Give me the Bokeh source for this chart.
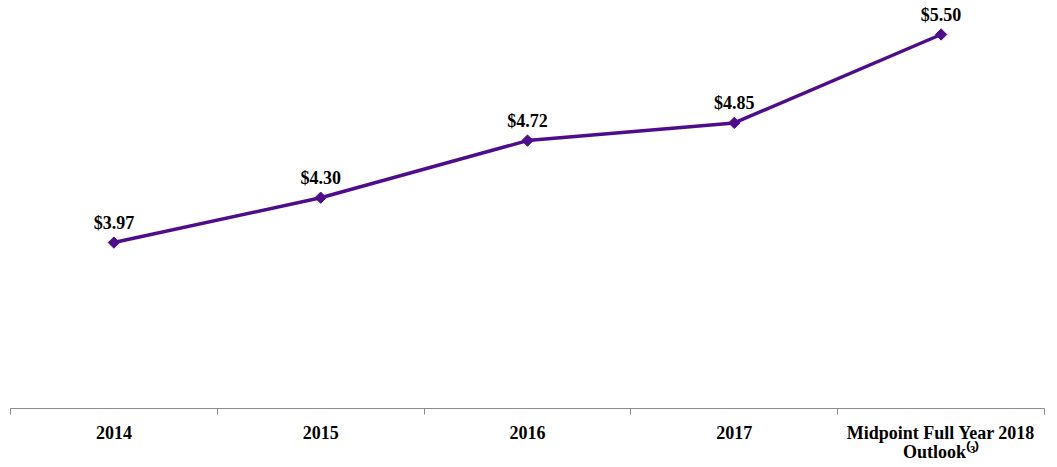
import numpy as np
from bokeh.plotting import figure
from bokeh.models import Range1d, FixedTicker, ColumnDataSource
from bokeh.core.properties import value
from bokeh.embed import file_html
from bokeh.resources import INLINE

categories = ["2014", "2015", "2016", "2017", "Midpoint Full Year 2018\nOutlook\u207d\u00b3\u207e"]
values = [3.97, 4.30, 4.72, 4.85, 5.50]
value_labels = ["$3.97", "$4.30", "$4.72", "$4.85", "$5.50"]

PURPLE = "#4E0D8C"
FONT = "Liberation Serif"

xs = np.arange(len(categories)) + 0.5
src = ColumnDataSource(dict(x=xs, y=values, lab=value_labels))

p = figure(frame_width=1034, frame_height=408,
           x_range=Range1d(0, len(categories)), y_range=Range1d(2.75, 5.75),
           output_backend="svg", toolbar_location=None, y_axis_location=None,
           min_border_left=10, min_border_right=13, min_border_top=0, min_border_bottom=59)
p.outline_line_color = None
p.xgrid.visible = False
p.ygrid.visible = False
p.background_fill_color = "white"
p.border_fill_color = "white"

p.line("x", "y", source=src, line_color=PURPLE, line_width=3.5)
p.scatter("x", "y", source=src, marker="square", angle=np.pi / 4, size=8,
          fill_color=PURPLE, line_color=PURPLE)
p.text("x", "y", text="lab", source=src, y_offset=-20, text_align="center",
       text_baseline="alphabetic", text_font=value(FONT), text_font_style="bold",
       text_font_size="18px", text_color="black")

ax = p.xaxis[0]
ax.ticker = FixedTicker(ticks=list(xs), minor_ticks=list(range(len(categories) + 1)))
ax.major_label_overrides = {float(x): c for x, c in zip(xs, categories)}
ax.major_tick_line_color = None
ax.major_tick_out = 0
ax.major_tick_in = 0
ax.minor_tick_out = 6
ax.minor_tick_in = 0
ax.minor_tick_line_color = "#8C8C8C"
ax.axis_line_color = "#8C8C8C"
ax.axis_line_width = 1.2
ax.major_label_standoff = 8
ax.major_label_text_font = FONT
ax.major_label_text_font_style = "bold"
ax.major_label_text_font_size = "18px"
ax.major_label_text_color = "black"
ax.major_label_text_line_height = 0.95

open("out.html", "w").write(file_html(p, INLINE))
